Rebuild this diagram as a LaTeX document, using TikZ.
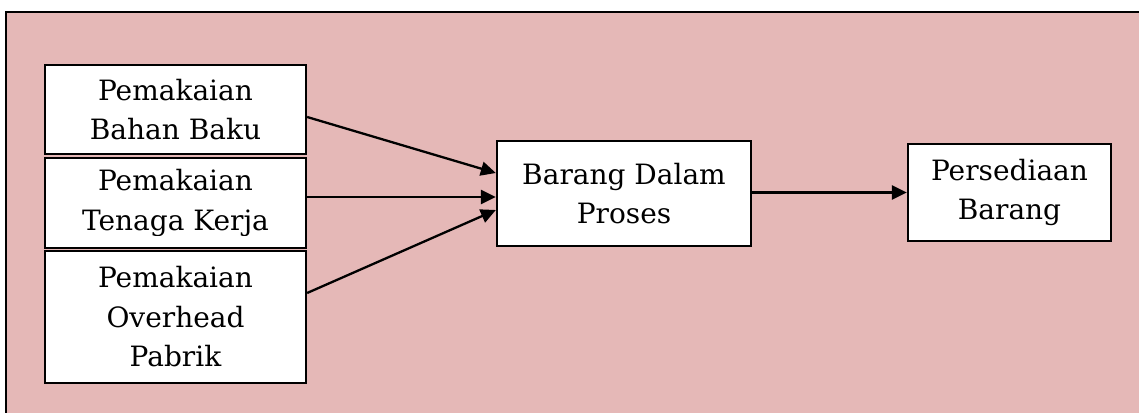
\documentclass[tikz,border=0pt]{standalone}
\usepackage{fontspec}
\setmainfont{DejaVu Serif}
\usepackage{tikz}
\usepackage{xcolor}
\usetikzlibrary{arrows.meta,calc}
\definecolor{bgpink}{HTML}{E5B8B7}

\begin{document}
\begin{tikzpicture}[x=1pt,y=-1pt]

            \tikzset{box/.style={draw=black, fill=white, line width=2.3pt, align=center,
                     inner sep=0pt, font=\fontsize{28}{39.5}\selectfont}}
            \tikzset{flow/.style={line width=2.3pt, -{Triangle[length=15pt,width=14pt]}}}

            \useasboundingbox (0,0) rectangle (1139,412);
            \draw [fill=bgpink, line width=2.3pt] (6,12) rectangle (1160,440);

            % biaya produksi
            \node [box, minimum width=261pt, minimum height=89pt] (bahan) at (175.5,109.5)
                {Pemakaian\\Bahan Baku};
            \node [box, minimum width=261pt, minimum height=90pt] (tenaga) at (175.5,203)
                {Pemakaian\\Tenaga Kerja};
            \fill [white] (47.5,236) rectangle (303.5,245);
            \node [box, minimum width=261pt, minimum height=132pt] (overhead) at (175.5,317)
                {Pemakaian\\Overhead\\Pabrik};

            \node [box, minimum width=254pt, minimum height=105pt] (proses) at (624,193.5)
                {Barang Dalam\\Proses};
            \node [box, minimum width=203pt, minimum height=97pt] (persediaan) at (1009.5,192.5)
                {Persediaan\\Barang};

            \draw [flow] ($(bahan.east)+(0,7.5)$) -- ($(proses.west)+(0,-20.5)$);
            \draw [flow] ($(tenaga.east)+(0,-6)$) -- ($(proses.west)+(0,3.5)$);
            \draw [flow] ($(overhead.east)+(0,-24)$) -- ($(proses.west)+(0,16.5)$);
            \draw [flow] (proses.east |- persediaan.west) -- (persediaan.west);

        \end{tikzpicture}
\end{document}
